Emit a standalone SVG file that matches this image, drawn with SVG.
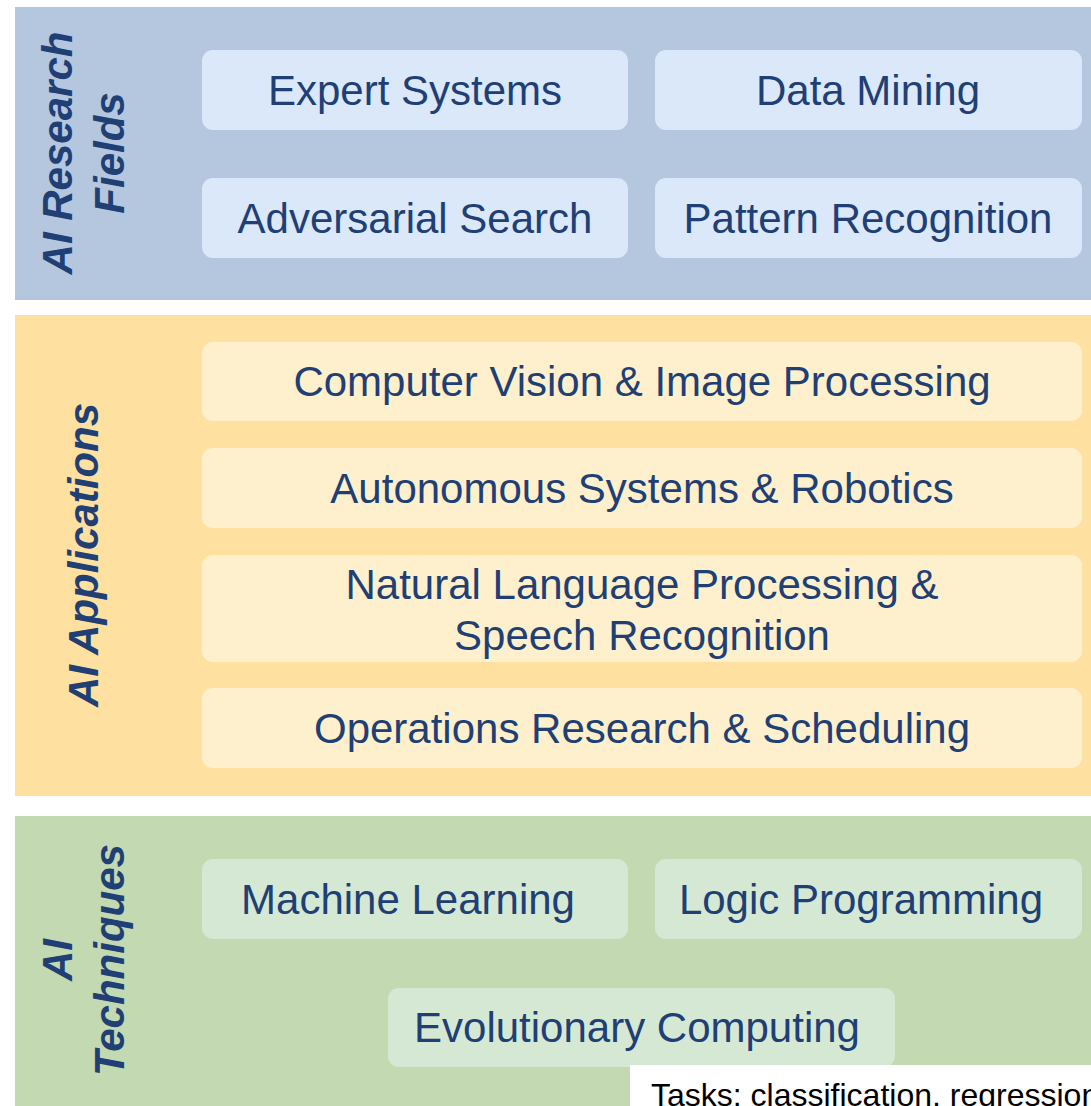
<svg xmlns="http://www.w3.org/2000/svg" width="1091" height="1106" viewBox="0 0 1091 1106">
<style>
.lbl{font-family:"Liberation Sans",Arial,sans-serif;font-size:42px;fill:#203f74;text-anchor:middle}
.side{font-family:"Liberation Sans",Arial,sans-serif;font-size:42px;font-weight:bold;font-style:italic;fill:#203f74;text-anchor:middle}
.b1{fill:#dae8fa}
.b2{fill:#fff0cd}
.b3{fill:#d5e8d4}
</style>
<rect width="1091" height="1106" fill="#ffffff"/>
<g id="band-research">
<rect x="15" y="7" width="1080" height="293" fill="#b4c7df"/>
<text class="side" transform="translate(72,153) rotate(-90)">AI Research</text>
<text class="side" transform="translate(124,153) rotate(-90)">Fields</text>
</g>
<g id="node-expert"><rect class="b1" x="202" y="50" width="426" height="80" rx="11"/><text class="lbl" x="415" y="105">Expert Systems</text></g>
<g id="node-datamining"><rect class="b1" x="655" y="50" width="427" height="80" rx="11"/><text class="lbl" x="868" y="105">Data Mining</text></g>
<g id="node-adversarial"><rect class="b1" x="202" y="178" width="426" height="80" rx="11"/><text class="lbl" x="415" y="233">Adversarial Search</text></g>
<g id="node-pattern"><rect class="b1" x="655" y="178" width="427" height="80" rx="11"/><text class="lbl" x="868" y="233">Pattern Recognition</text></g>
<g id="band-applications">
<rect x="15" y="315" width="1080" height="481" fill="#fee0a0"/>
<text class="side" transform="translate(98,555) rotate(-90)">AI Applications</text>
</g>
<g id="node-cv"><rect class="b2" x="202" y="342" width="880" height="79" rx="11"/><text class="lbl" x="642" y="396">Computer Vision &amp; Image Processing</text></g>
<g id="node-auto"><rect class="b2" x="202" y="448" width="880" height="80" rx="11"/><text class="lbl" x="642" y="503">Autonomous Systems &amp; Robotics</text></g>
<g id="node-nlp"><rect class="b2" x="202" y="555" width="880" height="107" rx="11"/><text class="lbl" x="642" y="599">Natural Language Processing &amp;</text><text class="lbl" x="642" y="650">Speech Recognition</text></g>
<g id="node-ops"><rect class="b2" x="202" y="688" width="880" height="80" rx="11"/><text class="lbl" x="642" y="743">Operations Research &amp; Scheduling</text></g>
<g id="band-techniques">
<rect x="15" y="816" width="1080" height="295" fill="#c2d9b2"/>
<text class="side" transform="translate(72,960) rotate(-90)">AI</text>
<text class="side" transform="translate(124,960) rotate(-90)">Techniques</text>
</g>
<g id="node-ml"><rect class="b3" x="202" y="859" width="426" height="80" rx="11"/><text class="lbl" x="408" y="914">Machine Learning</text></g>
<g id="node-logic"><rect class="b3" x="655" y="859" width="427" height="80" rx="11"/><text class="lbl" x="861" y="914">Logic Programming</text></g>
<g id="node-evo"><rect class="b3" x="388" y="988" width="507" height="79" rx="11"/><text class="lbl" x="637" y="1042">Evolutionary Computing</text></g>
<g id="connectors"></g>
<g id="tooltip">
<rect x="630" y="1065" width="470" height="50" fill="#ffffff"/>
<text x="651" y="1106" font-family="Liberation Sans,Arial,sans-serif" font-size="32" fill="#000000">Tasks: classification, regression</text>
</g>
</svg>
